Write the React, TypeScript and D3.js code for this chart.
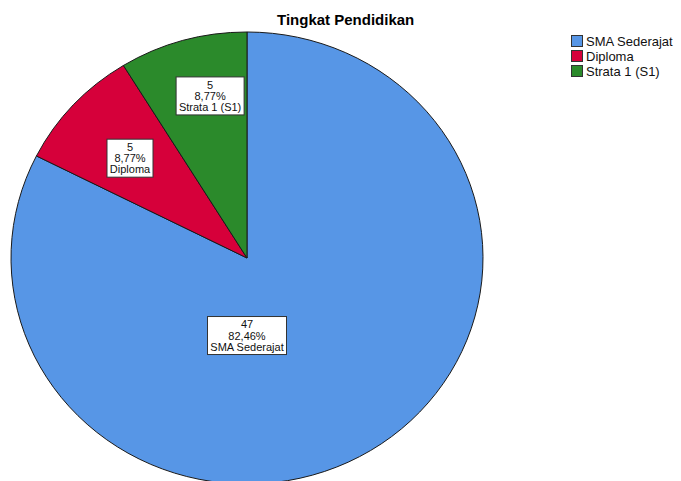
import React, { useRef, useEffect } from 'react';
import * as d3 from 'd3';

const categories = ['SMA Sederajat', 'Diploma', 'Strata 1 (S1)'];
const counts = [47, 5, 5];
const percents = ['82,46%', '8,77%', '8,77%'];
const colors = ['#5796e6', '#d6003a', '#2b8a2b'];
const title = 'Tingkat Pendidikan';

// where SPSS put each slice label (angle from 12 o'clock, fraction of radius)
const labelPlacement = [
  { angle: Math.PI, k: 0.343 },
  { angle: (-48.3 * Math.PI) / 180, k: 0.664 },
  { angle: (-12.3 * Math.PI) / 180, k: 0.734 },
];

const App: React.FC = () => {
  const svgRef = useRef<SVGSVGElement | null>(null);
  const width = 681;
  const height = 481;

  useEffect(() => {
    const svg = d3.select(svgRef.current);
    svg.selectAll('*').remove();

    const cx = 247;
    const cy = 258;
    const rx = 236;
    const ry = 226;

    const pie = d3.pie<number>().sort(null).value((d) => d);
    const arcs = pie(counts);
    const arc = d3.arc<d3.PieArcDatum<number>>().innerRadius(0).outerRadius(rx);

    const g = svg
      .append('g')
      .attr('transform', `translate(${cx},${cy}) scale(1,${ry / rx})`);

    g.selectAll('path')
      .data(arcs)
      .enter()
      .append('path')
      .attr('d', arc as any)
      .attr('fill', (_, i) => colors[i])
      .attr('stroke', '#1a1a1a')
      .attr('stroke-width', 1)
      .attr('vector-effect', 'non-scaling-stroke');

    // slice labels
    const font = 'Arial, "Liberation Sans", sans-serif';
    arcs.forEach((_, i) => {
      const p = labelPlacement[i];
      const lx = cx + Math.sin(p.angle) * p.k * rx;
      const ly = cy - Math.cos(p.angle) * p.k * ry;
      const lines = [String(counts[i]), percents[i], categories[i]];
      const lg = svg.append('g').attr('transform', `translate(${lx},${ly})`);
      const rect = lg.append('rect');
      const txt = lg
        .append('text')
        .attr('text-anchor', 'middle')
        .style('font-family', font)
        .style('font-size', '11px')
        .attr('fill', '#111');
      const lh = 11.2;
      lines.forEach((l, j) => {
        txt
          .append('tspan')
          .attr('x', 0)
          .attr('y', (j - 1) * lh + 4)
          .text(l);
      });
      let w = 0;
      txt.selectAll<SVGTSpanElement, unknown>('tspan').each(function () {
        w = Math.max(w, this.getComputedTextLength());
      });
      const bw = Math.round(w + 6);
      const bh = 38;
      rect
        .attr('x', -bw / 2)
        .attr('y', -bh / 2)
        .attr('width', bw)
        .attr('height', bh)
        .attr('fill', '#fff')
        .attr('stroke', '#333')
        .attr('stroke-width', 1);
    });

    // title
    svg
      .append('text')
      .attr('x', 277)
      .attr('y', 25)
      .style('font-family', font)
      .style('font-weight', 'bold')
      .style('font-size', '15px')
      .attr('fill', '#000')
      .text(title);

    // legend
    const legend = svg.append('g').attr('transform', 'translate(571,35)');
    categories.forEach((c, i) => {
      const row = legend.append('g').attr('transform', `translate(0,${i * 15})`);
      row
        .append('rect')
        .attr('x', 0.5)
        .attr('y', 0.5)
        .attr('width', 11)
        .attr('height', 11)
        .attr('fill', colors[i])
        .attr('stroke', '#333')
        .attr('stroke-width', 1);
      row
        .append('text')
        .attr('x', 15)
        .attr('y', 10.5)
        .style('font-family', font)
        .style('font-size', '13px')
        .attr('fill', '#111')
        .text(c);
    });
  }, []);

  return (
    <svg
      ref={svgRef}
      width={width}
      height={height}
      style={{ position: 'absolute', left: 0, top: 0, background: '#fff' }}
    ></svg>
  );
};

export default App;
